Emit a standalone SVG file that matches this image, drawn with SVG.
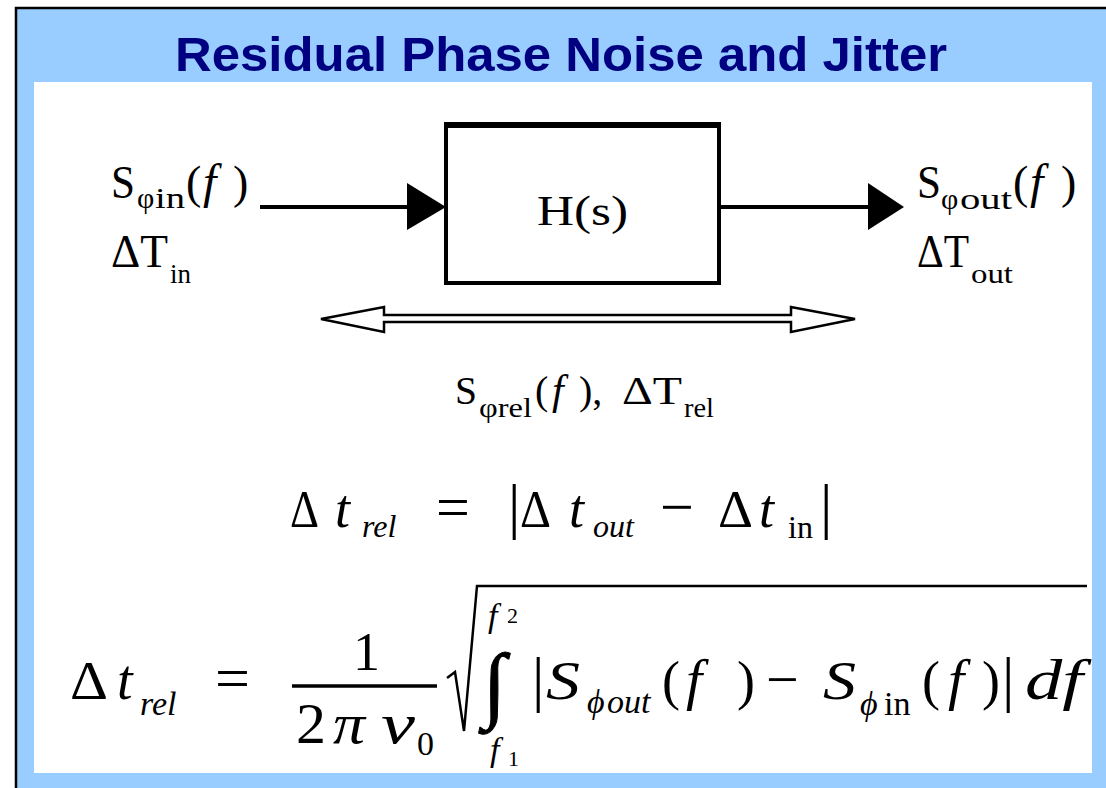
<svg xmlns="http://www.w3.org/2000/svg" width="1106" height="788" viewBox="0 0 1106 788">
<style>
.serif{font-family:"Liberation Serif","DejaVu Serif",serif;fill:#000}
.it{font-style:italic}
.title{font-family:"Liberation Sans",Arial,sans-serif;font-weight:bold;font-size:49px;fill:#000080}
</style>
<rect x="0" y="0" width="1106" height="788" fill="#fff"/>
<rect x="16" y="8" width="1090" height="780" fill="#99ccff"/>
<path d="M16,788 V8 H1106" fill="none" stroke="#000" stroke-width="2.5"/>
<rect x="34" y="82" width="1058" height="691" fill="#fff"/>

<g id="title">
<text class="title" x="175" y="71" textLength="772" lengthAdjust="spacingAndGlyphs">Residual Phase Noise and Jitter</text>
</g>

<g id="node-input" class="serif">
<text x="111" y="198" font-size="46" textLength="24" lengthAdjust="spacingAndGlyphs">S</text>
<text x="137" y="208" font-size="30">φ</text>
<text x="155" y="208" font-size="30" textLength="30" lengthAdjust="spacingAndGlyphs">in</text>
<text x="186" y="198" font-size="46">(</text>
<text x="203" y="198" font-size="48" class="it">f</text>
<text x="233" y="198" font-size="46">)</text>
<text x="111" y="267" font-size="46" textLength="57" lengthAdjust="spacingAndGlyphs">ΔT</text>
<text x="170" y="283" font-size="28" textLength="21" lengthAdjust="spacingAndGlyphs">in</text>
</g>

<g id="node-block">
<rect x="446" y="126" width="273" height="157" fill="#fff" stroke="#000" stroke-width="4"/>
<line x1="444" y1="125" x2="721" y2="125" stroke="#000" stroke-width="6"/>
<text class="serif" x="537" y="225" font-size="42" textLength="91" lengthAdjust="spacingAndGlyphs">H(s)</text>
</g>

<g id="node-output" class="serif">
<text x="917" y="198" font-size="46" textLength="24" lengthAdjust="spacingAndGlyphs">S</text>
<text x="941" y="209" font-size="30">φ</text>
<text x="960" y="209" font-size="30" textLength="52" lengthAdjust="spacingAndGlyphs">out</text>
<text x="1013" y="198" font-size="46">(</text>
<text x="1030" y="198" font-size="48" class="it">f</text>
<text x="1061" y="198" font-size="46">)</text>
<text x="917" y="267" font-size="46" textLength="52" lengthAdjust="spacingAndGlyphs">ΔT</text>
<text x="971" y="283" font-size="28" textLength="42" lengthAdjust="spacingAndGlyphs">out</text>
</g>

<g id="connectors">
<line x1="260" y1="207" x2="408" y2="207" stroke="#000" stroke-width="4"/>
<polygon points="407,183 446,207 407,230" fill="#000"/>
<line x1="719" y1="207" x2="870" y2="207" stroke="#000" stroke-width="4"/>
<polygon points="868,183 904,207 868,230" fill="#000"/>
<polygon points="321,319 384,307 384,315 791,315 791,307 855,319 791,332 791,322 384,322 384,332" fill="#fff" stroke="#000" stroke-width="2.5" stroke-linejoin="miter"/>
</g>

<g id="label-rel" class="serif">
<text x="455" y="404" font-size="40" textLength="22" lengthAdjust="spacingAndGlyphs">S</text>
<text x="479" y="417" font-size="28" textLength="53" lengthAdjust="spacingAndGlyphs">φrel</text>
<text x="535" y="404" font-size="40">(</text>
<text x="552" y="404" font-size="42" class="it">f</text>
<text x="579" y="404" font-size="40">),</text>
<text x="622" y="404" font-size="40" textLength="60" lengthAdjust="spacingAndGlyphs">ΔT</text>
<text x="684" y="417" font-size="28" textLength="30" lengthAdjust="spacingAndGlyphs">rel</text>
</g>

<g id="formula-1" class="serif">
<text x="290" y="527" font-size="52" textLength="29" lengthAdjust="spacingAndGlyphs">Δ</text>
<text x="335" y="527" font-size="54" class="it">t</text>
<text x="362" y="537" font-size="32" class="it">rel</text>
<text x="436" y="527" font-size="60">=</text>
<text x="508" y="527" font-size="62">|</text>
<text x="520" y="527" font-size="52" textLength="31" lengthAdjust="spacingAndGlyphs">Δ</text>
<text x="569" y="527" font-size="54" class="it">t</text>
<text x="593" y="537" font-size="32" class="it">out</text>
<text x="660" y="527" font-size="60">−</text>
<text x="718" y="527" font-size="52" textLength="35" lengthAdjust="spacingAndGlyphs">Δ</text>
<text x="759" y="527" font-size="54" class="it">t</text>
<text x="788" y="538" font-size="32">in</text>
<text x="820" y="527" font-size="62">|</text>
</g>

<g id="formula-2" class="serif">
<text x="70" y="699" font-size="54" textLength="38" lengthAdjust="spacingAndGlyphs">Δ</text>
<text x="117" y="699" font-size="56" class="it">t</text>
<text x="140" y="715" font-size="34" class="it">rel</text>
<text x="215" y="699" font-size="62">=</text>
<line x1="292" y1="686" x2="437" y2="686" stroke="#000" stroke-width="3.5"/>
<text x="353" y="670" font-size="54">1</text>
<text x="296" y="743" font-size="56" textLength="30" lengthAdjust="spacingAndGlyphs">2</text>
<text x="333" y="743" font-size="56" class="it" textLength="32" lengthAdjust="spacingAndGlyphs">π</text>
<text x="381" y="743" font-size="58" class="it" textLength="34" lengthAdjust="spacingAndGlyphs">ν</text>
<text x="417" y="755" font-size="34">0</text>
<path d="M447,678 L455,672 L464,731 L477,586 L1087,586" fill="none" stroke="#000" stroke-width="2.5" stroke-linejoin="miter"/>
<text x="488" y="627" font-size="34" class="it">f</text>
<text x="507" y="623" font-size="22">2</text>
<text x="483" y="712" font-size="84" stroke="#000" stroke-width="1">∫</text>
<text x="490" y="761" font-size="34" class="it">f</text>
<text x="508" y="766" font-size="22">1</text>
<text x="532" y="700" font-size="62">|</text>
<text x="546" y="699" font-size="54" class="it" textLength="34" lengthAdjust="spacingAndGlyphs">S</text>
<text x="587" y="713" font-size="34" class="it">ϕ</text>
<text x="607" y="713" font-size="34" class="it">out</text>
<text x="662" y="699" font-size="54">(</text>
<text x="686" y="699" font-size="58" class="it">f</text>
<text x="737" y="699" font-size="54">)</text>
<text x="766" y="699" font-size="58">−</text>
<text x="823" y="699" font-size="54" class="it" textLength="33" lengthAdjust="spacingAndGlyphs">S</text>
<text x="860" y="715" font-size="34" class="it">ϕ</text>
<text x="884" y="715" font-size="34">in</text>
<text x="922" y="699" font-size="54">(</text>
<text x="948" y="699" font-size="58" class="it">f</text>
<text x="982" y="699" font-size="54">)</text>
<text x="1002" y="700" font-size="62">|</text>
<text x="1025" y="699" font-size="56" class="it" textLength="58" lengthAdjust="spacingAndGlyphs">df</text>
</g>
</svg>
